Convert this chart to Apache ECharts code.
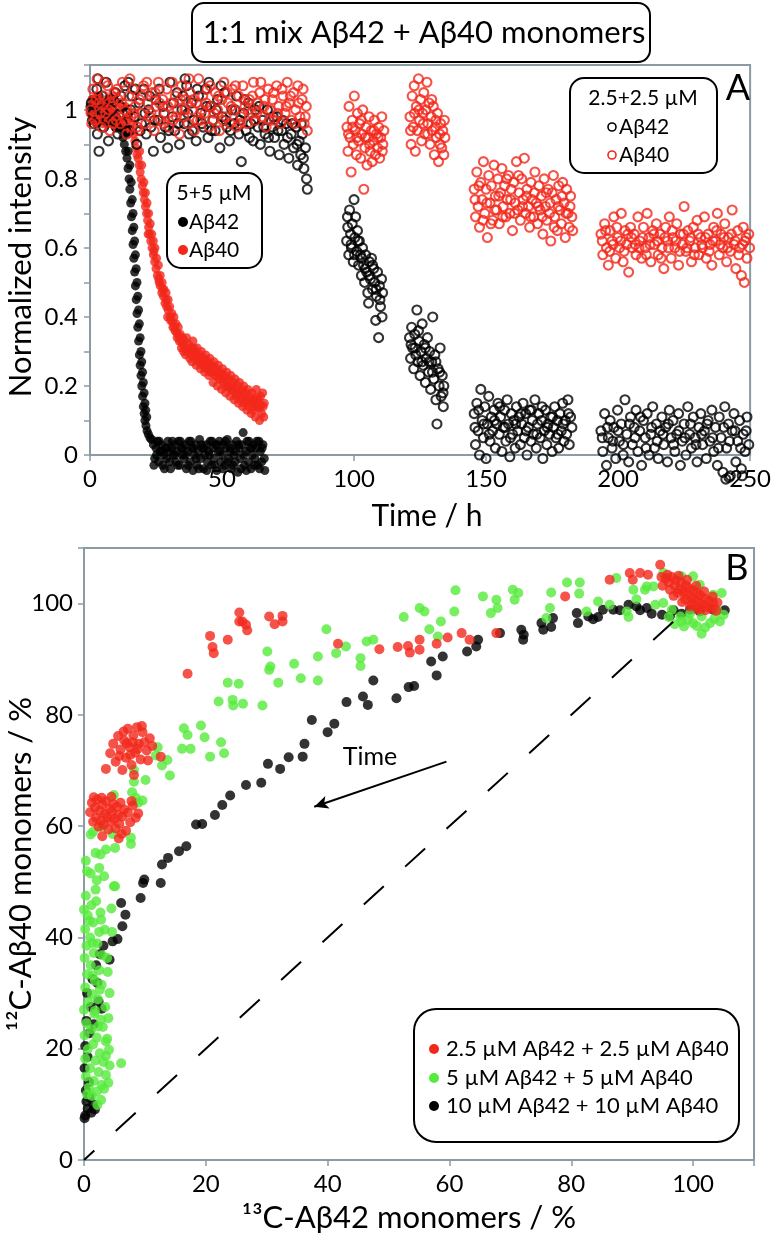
<!DOCTYPE html>
<html><head><meta charset="utf-8">
<script src="https://cdn.jsdelivr.net/npm/echarts@6.0.0/dist/echarts.min.js"></script>
<style>html,body{margin:0;padding:0;background:#fff}#c{width:774px;height:1238px}</style>
</head><body><div id="c"></div>
<script>
// ---------- Panel A: time course (x = time / h, y = normalized intensity) ----------
const timeTicksA = [0, 50, 100, 150, 200, 250];
const intensityTicksA = [0, 0.2, 0.4, 0.6, 0.8, 1];

// 5+5 µM, Aβ42 (filled black)
const a42_5uM = [
[0,1.01],[0.5,0.97],[1,1.03],[1.5,0.99],[2,1.02],[2.5,0.96],[3,1.0],[3.5,1.04],[4,0.98],[4.5,1.01],[5,0.97],[5.5,1.02],[6,0.99],[6.5,0.96],[7,1.01],[7.5,0.98],[8,1.03],[8.5,0.97],[9,0.99],[9.5,0.95],[10,0.98],[10.5,0.96],[11,0.97],
[11.5,0.95],[12,0.94],[12.5,0.92],[13,0.9],[13.5,0.88],[14,0.86],[14.4,0.83],[14.8,0.8],[15.1,0.77],[15.4,0.73],[15.7,0.69],[16,0.65],[16.3,0.61],[16.6,0.57],[16.9,0.53],[17.2,0.49],[17.5,0.45],[17.8,0.41],[18.1,0.37],[18.4,0.33],[18.7,0.29],[19,0.26],[19.3,0.23],[19.6,0.2],[19.9,0.17],[20.2,0.14],[20.5,0.12],[20.8,0.1],[21.2,0.085],[21.6,0.07],[22.1,0.06],[22.7,0.05],[23.3,0.045],
[13.8,0.93],[14.5,0.88],[15.1,0.84],[15.6,0.79],[16,0.74],[16.3,0.7],[16.6,0.66],[16.9,0.62],[17.2,0.58],[17.5,0.54],[17.8,0.5],[18.1,0.46],[18.4,0.42],[18.7,0.38],[19,0.34],[19.3,0.3],[19.6,0.27],[19.9,0.24],[20.2,0.21],[20.5,0.18],[20.8,0.15],[21.1,0.13],[21.5,0.11],
[24,0.03],[24.5,-0.01],[25,0.02],[25.5,0.04],[26,-0.02],[26.5,0.01],[27,0.03],[27.5,-0.03],[28,0.0],[28.5,0.02],[29,-0.01],[29.5,0.04],[30,0.01],[30.5,-0.04],[31,0.02],[31.5,0.0],[32,0.03],[32.5,-0.02],[33,0.01],[33.5,0.04],[34,-0.03],[34.5,0.02],[35,0.0],[35.5,-0.01],[36,0.03],[36.5,-0.04],[37,0.01],[37.5,0.04],[38,-0.02],[38.5,0.02],[39,-0.045],[39.5,0.0],[40,0.03],[40.5,-0.03],[41,0.01],[41.5,0.045],[42,-0.01],[42.5,0.02],[43,-0.04],[43.5,0.0],[44,0.03],[44.5,-0.02],[45,0.01],[45.5,0.04],[46,-0.03],[46.5,0.02],[47,-0.01],[47.5,0.03],[48,-0.045],[48.5,0.01],[49,0.04],[49.5,-0.02],[50,0.0],[50.5,0.03],[51,-0.03],[51.5,0.02],[52,0.045],[52.5,-0.01],[53,0.01],[53.5,-0.04],[54,0.03],[54.5,0.0],[55,-0.02],[55.5,0.04],[56,-0.05],[56.5,0.02],[57,-0.01],[57.5,0.03],[58,0.065],[58.5,-0.03],[59,0.01],[59.5,0.04],[60,-0.02],[60.5,0.02],[61,-0.04],[61.5,0.0],[62,0.03],[62.5,-0.01],[63,0.02],[63.5,-0.03],[64,0.04],[64.5,0.01],[65,-0.02],[65.5,0.03],[66,-0.01],[66.2,-0.045],
[24.2,-0.03],[25.2,0.0],[26.2,0.04],[27.2,0.01],[28.2,-0.04],[29.2,0.02],[30.2,-0.02],[31.2,0.04],[32.2,0.0],[33.2,-0.03],[34.2,0.04],[35.2,0.02],[36.2,0.0],[37.2,-0.03],[38.2,0.04],[39.2,0.02],[40.2,-0.01],[41.2,-0.04],[42.2,0.03],[43.2,0.02],[44.2,-0.045],[45.2,0.0],[46.2,0.04],[47.2,-0.03],[48.2,0.03],[49.2,0.01],[50.2,-0.04],[51.2,0.04],[52.2,-0.02],[53.2,0.02],[54.2,-0.03],[55.2,0.01],[56.2,0.03],[57.2,-0.04],[58.2,0.0],[59.2,-0.045],[60.2,0.04],[61.2,0.02],[62.2,-0.03],[63.2,0.04],[64.2,-0.04],[65.2,0.02]
];

// 5+5 µM, Aβ40 (filled red)
const a40_5uM = [
[0,0.99],[0.7,1.03],[1.4,0.97],[2.1,1.01],[2.8,1.04],[3.5,0.98],[4.2,1.02],[4.9,0.96],[5.6,1.0],[6.3,1.03],[7,0.97],[7.7,1.01],[8.4,0.99],[9.1,1.04],[9.8,0.98],[10.5,1.02],[11.2,0.96],[11.9,1.0],[12.6,0.97],[13.3,1.01],[14,0.95],[14.7,0.98],[15.4,0.94],[16,0.96],[16.5,0.93],
[17,0.91],[17.4,0.89],[17.8,0.87],[18.2,0.86],[18.6,0.84],[19,0.82],[19.4,0.8],[19.8,0.78],[20.2,0.76],[20.6,0.74],[21,0.72],[21.4,0.7],[21.8,0.68],[22.2,0.66],[22.6,0.64],[23,0.62],[23.5,0.6],[24,0.58],[24.5,0.56],[25,0.54],[25.5,0.52],[26,0.51],[26.6,0.49],[27.2,0.47],[27.8,0.46],[28.4,0.44],[29,0.43],[29.6,0.42],
[18.8,0.88],[19.6,0.84],[20.4,0.79],[21,0.76],[21.6,0.73],[22.2,0.7],[22.8,0.67],[23.4,0.64],[24,0.62],[24.6,0.6],[25.2,0.57],[25.9,0.55],[26.6,0.52],[27.3,0.5],[28,0.48],[28.8,0.47],[29.6,0.45],
[22,0.64],[24.2,0.59],[26.2,0.5],[27.5,0.48],[28.8,0.45],[29.4,0.4],
[30.2,0.43],[30.5,0.39],[31,0.41],[31.4,0.37],[31.8,0.4],[32.2,0.36],[32.6,0.38],[33,0.34],[33.4,0.37],[33.8,0.33],[34.2,0.35],[34.6,0.31],[35,0.34],[35.4,0.3],[35.8,0.33],[36.2,0.29],[36.6,0.34],[37,0.3],[37.4,0.32],[37.8,0.28],[38.2,0.31],[38.6,0.27],[39,0.33],[39.4,0.29],[39.8,0.3],[40.2,0.26],[40.6,0.31],[41,0.27],[41.4,0.29],[41.8,0.25],[42.2,0.3],[42.6,0.26],[43,0.28],[43.4,0.24],[43.8,0.29],[44.2,0.25],[44.6,0.27],[45,0.23],[45.4,0.28],[45.8,0.24],[46.2,0.26],[46.6,0.21],[47,0.27],[47.4,0.23],[47.8,0.25],[48.2,0.2],[48.6,0.26],[49,0.22],[49.4,0.24],[49.8,0.19],[50.2,0.25],[50.6,0.21],[51,0.23],[51.4,0.18],[51.8,0.24],[52.2,0.2],[52.6,0.22],[53,0.17],[53.4,0.23],[53.8,0.19],[54.2,0.21],[54.6,0.16],[55,0.22],[55.4,0.17],[55.8,0.2],[56.2,0.15],[56.6,0.21],[57,0.16],[57.4,0.19],[57.8,0.14],[58.2,0.2],[58.6,0.15],[59,0.18],[59.4,0.13],[59.8,0.19],[60.2,0.14],[60.6,0.17],[61,0.12],[61.4,0.18],[61.8,0.13],[62.2,0.16],[62.6,0.11],[63,0.19],[63.4,0.14],[63.8,0.16],[64.2,0.1],[64.6,0.17],[65,0.12],[65.4,0.18],[65.8,0.11],[66,0.15],
[30.4,0.4],[31.2,0.385],[32,0.37],[32.8,0.355],[33.6,0.345],[34.4,0.33],[35.2,0.32],[36,0.31],[36.8,0.305],[37.6,0.3],[38.4,0.29],[39.2,0.31],[40,0.28],[40.8,0.285],[41.6,0.27],[42.4,0.28],[43.2,0.26],[44,0.27],[44.8,0.25],[45.6,0.26],[46.4,0.24],[47.2,0.25],[48,0.23],[48.8,0.235],[49.6,0.22],[50.4,0.225],[51.2,0.2],[52,0.215],[52.8,0.195],[53.6,0.2],[54.4,0.185],[55.2,0.19],[56,0.175],[56.8,0.18],[57.6,0.165],[58.4,0.175],[59.2,0.155],[60,0.16],[60.8,0.15],[61.6,0.155],[62.4,0.14],[63.2,0.165],[64,0.135],[64.8,0.145],[65.6,0.14]
];

// 2.5+2.5 µM, Aβ42 (open black)
const a42_2p5uM = [
[0.5,1.02],[1.5,0.96],[2.6,1.06],[3.4,0.88],[4.3,1.0],[5.2,0.95],[6.1,1.08],[7,0.91],[7.8,1.03],[8.7,0.97],[9.6,1.05],[10.5,0.93],[11.4,1.01],[12.3,0.96],[13.2,1.07],[14.1,0.99],[15,0.94],[15.9,1.04],[16.8,0.98],[17.7,0.9],[18.6,1.02],[19.5,0.96],[20.4,1.06],[21.3,0.93],[22.2,1.0],[23.1,0.95],[24,0.88],[24.9,1.03],[25.8,0.97],[26.7,0.92],[27.6,1.01],[28.5,0.95],[29.4,0.89],[30.3,1.08],[31.2,0.98],[32.1,0.94],[33,1.05],[33.9,0.9],[34.8,1.0],[35.7,0.96],[36.6,1.07],[37.5,0.93],[38.4,1.02],[39.3,0.97],[40.2,0.91],[41.1,1.04],[42,0.99],[42.9,0.95],[43.8,1.06],[44.7,0.92],[45.6,1.01],[46.5,0.97],[47.4,0.94],[48.3,1.03],[49.2,0.89],[50.1,0.98],[51,1.05],[51.9,0.95],[52.8,0.91],[53.7,1.0],[54.6,0.96],[55.5,1.04],[56.4,0.93],[57.3,0.85],[58.2,0.99],[59.1,0.94],[60,1.02],[60.9,0.96],[61.8,0.91],[62.7,1.0],[63.6,0.95],[64.5,0.9],[65.4,0.97],[66.3,0.93],[67.2,1.0],[68.1,0.88],[69,0.95],[69.9,0.92],[70.8,0.98],[71.7,0.87],[72.6,0.94],[73.5,0.9],[74.4,0.96],[75.3,0.86],[76.2,0.93],[77.1,0.89],[78,0.95],[78.6,0.84],[79.2,0.91],[79.8,0.87],[80.4,0.93],[81,0.83],[81.6,0.89],[82,0.8],[82.3,0.77],
[3,1.09],[14.5,1.08],[36,1.09],[45,1.08],
[1,0.99],[2.8,0.93],[4.6,1.04],[6.4,0.97],[8.2,1.0],[10,0.95],[11.8,1.04],[13.6,0.94],[15.4,1.0],[17.2,1.06],[19,0.94],[20.8,0.99],[22.6,1.04],[24.4,0.97],[26.2,1.06],[28,0.99],[29.8,0.94],[31.6,1.02],[33.4,0.96],[35.2,1.04],[37,0.99],[38.8,0.94],[40.6,1.06],[42.4,0.96],[44.2,1.01],[46,0.94],[47.8,1.0],[49.6,1.07],[51.4,0.97],[53.2,0.94],[55,1.0],[56.8,0.97],[58.6,1.03],[60.4,0.92],[62.2,0.97],[64,1.01],[65.8,0.95],[67.6,0.92],[69.4,0.98],[71.2,0.94],[73,0.97],[74.8,0.92],[76.6,0.96],[78.4,0.9],[80,0.96],[80.8,0.86],
[97.2,0.62],[97.6,0.66],[98,0.58],[98.3,0.71],[98.7,0.64],[99,0.6],[99.3,0.67],[99.7,0.56],[100,0.74],[100.3,0.63],[100.6,0.69],[101,0.59],[101.3,0.65],[101.7,0.55],[102,0.62],[102.4,0.58],[102.8,0.52],[103.2,0.6],[103.6,0.55],[104,0.5],[104.4,0.58],[104.8,0.53],[105.2,0.47],[105.5,0.44],[105.8,0.56],[106.2,0.51],[106.6,0.57],[107,0.48],[107.4,0.54],[107.8,0.5],[108.2,0.39],[108.5,0.46],[108.9,0.53],[109.3,0.34],[109.6,0.49],[110,0.43],[110.4,0.51],[110.8,0.47],
[97.5,0.69],[98.9,0.61],[100.2,0.58],[101.5,0.62],[102.9,0.57],[104.2,0.54],[105.6,0.52],[107,0.55],[108.4,0.48],[109.8,0.45],[110.6,0.4],
[121,0.34],[121.4,0.28],[121.8,0.37],[122.2,0.31],[122.6,0.25],[123,0.35],[123.4,0.29],[123.8,0.42],[124.2,0.27],[124.6,0.33],[125,0.23],[125.4,0.3],[125.8,0.38],[126.2,0.26],[126.6,0.32],[127,0.21],[127.4,0.28],[127.8,0.34],[128.2,0.24],[128.6,0.3],[129,0.19],[129.4,0.27],[129.8,0.4],[130.2,0.22],[130.6,0.29],[131,0.16],[131.4,0.09],[131.8,0.25],[132.2,0.2],[132.6,0.31],[133,0.17],[133.4,0.23],[133.8,0.14],[134,0.2],
[121.6,0.32],[123.1,0.31],[124.4,0.36],[125.7,0.27],[127,0.31],[128.4,0.27],[129.7,0.24],[131,0.27],[132.4,0.24],[133.7,0.18],
[145.5,0.12],[146,0.03],[146.5,0.15],[147,0.07],[147.5,0.0],[148,0.19],[148.5,0.1],[149,0.05],[149.5,0.14],[150,-0.01],[150.5,0.09],[151,0.17],[151.5,0.04],[152,0.11],[152.5,0.07],[153,0.13],[153.5,0.02],[154,0.09],[154.5,0.15],[155,0.06],[155.5,0.11],[156,0.01],[156.5,0.08],[157,0.13],[157.5,0.04],[158,0.16],[158.5,0.09],[159,-0.005],[159.5,0.12],[160,0.06],[160.5,0.1],[161,0.02],[161.5,0.14],[162,0.07],[162.5,0.11],[163,0.03],[163.5,0.09],[164,0.15],[164.5,0.05],[165,0.12],[165.5,0.0],[166,0.08],[166.5,0.13],[167,0.04],[167.5,0.1],[168,0.06],[168.5,0.16],[169,0.02],[169.5,0.09],[170,0.12],[170.5,0.05],[171,0.1],[171.5,-0.01],[172,0.07],[172.5,0.13],[173,0.03],[173.5,0.09],[174,0.06],[174.5,0.11],[175,0.01],[175.5,0.08],[176,0.14],[176.5,0.05],[177,0.1],[177.5,0.02],[178,0.12],[178.5,0.07],[179,0.15],[179.5,0.04],[180,0.1],[180.5,0.06],[181,0.16],[181.5,0.03],[182,0.11],[182.5,0.08],
[145.8,0.08],[147.2,0.13],[149.2,0.09],[151.2,0.06],[153.2,0.1],[155.2,0.14],[157.2,0.08],[159.2,0.05],[161.2,0.09],[163.2,0.12],[165.2,0.07],[167.2,0.13],[169.2,0.06],[171.2,0.14],[173.2,0.08],[175.2,0.11],[177.2,0.06],[179.2,0.09],[181.2,0.12],
[193.5,0.07],[194.2,0.01],[194.9,0.12],[195.6,-0.03],[196.3,0.05],[197,0.1],[197.7,0.02],[198.4,0.08],[199.1,-0.01],[199.8,0.13],[200.5,0.04],[201.2,0.09],[201.9,0.0],[202.6,0.16],[203.3,0.06],[204,-0.02],[204.7,0.11],[205.4,0.03],[206.1,0.08],[206.8,0.13],[207.5,0.01],[208.2,0.07],[208.9,-0.03],[209.6,0.1],[210.3,0.05],[211,0.12],[211.7,0.0],[212.4,0.06],[213.1,0.14],[213.8,0.02],[214.5,0.09],[215.2,-0.01],[215.9,0.07],[216.6,0.11],[217.3,0.03],[218,0.08],[218.7,-0.02],[219.4,0.13],[220.1,0.05],[220.8,0.1],[221.5,0.01],[222.2,0.06],[222.9,0.12],[223.6,-0.03],[224.3,0.04],[225,0.09],[225.7,0.0],[226.4,0.14],[227.1,0.06],[227.8,0.02],[228.5,0.11],[229.2,0.05],[229.9,-0.02],[230.6,0.08],[231.3,0.12],[232,0.03],[232.7,0.07],[233.4,-0.01],[234.1,0.1],[234.8,0.04],[235.5,0.13],[236.2,0.01],[236.9,0.08],[237.6,-0.03],[238.3,0.11],[239,0.05],[239.7,-0.05],[240.4,0.14],[241.1,0.02],[241.8,0.09],[242.5,-0.06],[243.2,0.07],[243.9,0.12],[244.6,-0.02],[245.3,0.04],[246,0.1],[246.7,-0.04],[247.4,0.06],[248.1,0.01],[248.8,0.11],[249.5,0.03],[240.8,-0.07],[242,-0.065],[247,-0.06],
[194,0.05],[196,0.08],[198,0.04],[200,0.07],[202,0.03],[204.3,0.09],[206.4,0.05],[208.5,0.11],[210.6,0.02],[212.7,0.08],[214.8,0.04],[217,0.06],[219,0.09],[221,0.03],[223,0.07],[225.3,0.05],[227.4,0.09],[229.5,0.03],[231.6,0.06],[233.7,0.09],[235.8,0.05],[238,0.02],[240,0.08],[242.2,0.04],[244.3,0.07],[246.4,0.02],[248.5,0.07]
];

// 2.5+2.5 µM, Aβ40 (open red)
const a40_2p5uM = [
[0.3,1.0],[1.1,1.06],[1.9,0.97],[2.7,1.09],[3.5,1.02],[4.3,0.95],[5.1,1.04],[5.9,0.99],[6.7,1.07],[7.5,0.94],[8.3,1.01],[9.1,1.05],[9.9,0.97],[10.7,1.03],[11.5,0.96],[12.3,1.08],[13.1,1.0],[13.9,0.93],[14.7,1.04],[15.5,0.98],[16.3,1.06],[17.1,1.01],[17.9,0.95],[18.7,1.03],[19.5,0.99],[20.3,1.07],[21.1,0.96],[21.9,1.02],[22.7,0.98],[23.5,1.05],[24.3,0.94],[25.1,1.01],[25.9,1.08],[26.7,0.97],[27.5,1.03],[28.3,0.99],[29.1,1.06],[29.9,0.95],[30.7,1.02],[31.5,0.97],[32.3,1.04],[33.1,1.0],[33.9,0.93],[34.7,1.07],[35.5,0.98],[36.3,1.03],[37.1,0.96],[37.9,1.05],[38.7,1.0],[39.5,0.94],[40.3,1.02],[41.1,1.09],[41.9,0.97],[42.7,1.04],[43.5,0.99],[44.3,1.06],[45.1,0.95],[45.9,1.01],[46.7,0.97],[47.5,1.05],[48.3,1.0],[49.1,0.94],[49.9,1.03],[50.7,1.08],[51.5,0.98],[52.3,1.02],[53.1,0.96],[53.9,1.06],[54.7,1.0],[55.5,0.95],[56.3,1.04],[57.1,0.98],[57.9,1.07],[58.7,1.01],[59.5,0.96],[60.3,1.03],[61.1,0.99],[61.9,1.08],[62.7,0.97],[63.5,1.02],[64.3,1.05],[65.1,0.98],[65.9,1.01],[66.7,0.95],[67.5,1.06],[68.3,1.0],[69.1,1.03],[69.9,0.97],[70.7,1.07],[71.5,1.01],[72.3,0.96],[73.1,1.04],[73.9,0.99],[74.7,1.08],[75.5,1.02],[76.3,0.97],[77.1,1.05],[77.9,1.0],[78.7,1.07],[79.5,0.98],[80.3,1.03],[81.1,0.96],[81.9,1.01],[82.3,0.94],
[0.7,0.96],[2.3,1.03],[3.9,0.99],[5.5,1.08],[7.1,1.0],[8.7,0.96],[10.3,1.06],[11.9,1.02],[13.5,0.97],[15.1,1.09],[16.7,0.99],[18.3,0.94],[19.9,1.04],[21.5,1.08],[23.1,0.99],[24.7,1.05],[26.3,1.02],[27.9,0.96],[29.5,1.01],[31.1,1.08],[32.7,0.98],[34.3,1.03],[35.9,1.0],[37.5,1.09],[39.1,1.03],[40.7,0.97],[42.3,1.0],[43.9,1.02],[45.5,1.07],[47.1,0.99],[48.7,1.04],[50.3,0.97],[51.9,1.05],[53.5,1.01],[55.1,1.07],[56.7,0.96],[58.3,1.03],[59.9,1.0],[61.5,1.04],[63.1,0.99],[64.7,1.08],[66.3,1.03],[67.9,0.97],[69.5,1.05],[71.1,0.99],[72.7,1.06],[74.3,1.01],[75.9,1.04],[77.5,0.96],[79.1,1.02],[80.7,1.06],[81.5,0.98],
[97.3,0.95],[97.7,0.88],[98.1,1.01],[98.5,0.92],[98.9,0.82],[99.3,0.97],[99.7,0.9],[100.1,1.04],[100.5,0.94],[100.9,0.87],[101.3,0.99],[101.7,0.91],[102.1,0.96],[102.5,0.86],[102.9,0.93],[103.3,1.0],[103.7,0.77],[104.1,0.89],[104.5,0.95],[104.9,0.84],[105.3,0.92],[105.7,0.98],[106.1,0.88],[106.5,0.94],[106.9,0.85],[107.3,0.91],[107.7,0.97],[108.1,0.87],[108.5,0.93],[108.9,0.89],[109.3,0.95],[109.7,0.86],[110.1,0.92],[110.5,0.98],[110.9,0.9],[111.3,0.94],
[97.9,0.93],[99.5,0.95],[101.1,0.92],[102.7,0.97],[104.3,0.92],[105.9,0.9],[107.5,0.94],[109.1,0.92],[110.7,0.88],
[121.2,0.98],[121.6,0.9],[122,1.04],[122.4,0.95],[122.8,1.07],[123.2,0.88],[123.6,1.01],[124,0.94],[124.4,1.09],[124.8,0.97],[125.2,1.03],[125.6,0.91],[126,0.99],[126.4,1.05],[126.8,0.93],[127.2,1.0],[127.6,1.08],[128,0.96],[128.4,1.02],[128.8,0.9],[129.2,0.98],[129.6,0.94],[130,1.01],[130.4,0.87],[130.8,0.95],[131.2,0.92],[131.6,0.99],[132,0.85],[132.4,0.93],[132.8,0.96],[133.2,0.89],[133.6,0.94],[134,0.87],[134.4,0.92],
[121.4,0.94],[122.9,0.99],[124.6,1.0],[126.2,0.96],[127.9,0.93],[129.4,1.03],[131,0.97],[132.6,0.9],[134.2,0.97],
[145.5,0.77],[146,0.69],[146.5,0.82],[147,0.72],[147.5,0.66],[148,0.79],[148.5,0.74],[149,0.85],[149.5,0.7],[150,0.77],[150.5,0.63],[151,0.81],[151.5,0.73],[152,0.78],[152.5,0.68],[153,0.84],[153.5,0.75],[154,0.71],[154.5,0.8],[155,0.67],[155.5,0.76],[156,0.83],[156.5,0.72],[157,0.78],[157.5,0.69],[158,0.74],[158.5,0.81],[159,0.7],[159.5,0.77],[160,0.65],[160.5,0.79],[161,0.73],[161.5,0.85],[162,0.71],[162.5,0.76],[163,0.68],[163.5,0.8],[164,0.74],[164.5,0.86],[165,0.7],[165.5,0.77],[166,0.72],[166.5,0.66],[167,0.79],[167.5,0.74],[168,0.69],[168.5,0.82],[169,0.73],[169.5,0.67],[170,0.78],[170.5,0.71],[171,0.75],[171.5,0.64],[172,0.8],[172.5,0.72],[173,0.68],[173.5,0.77],[174,0.7],[174.5,0.62],[175,0.76],[175.5,0.81],[176,0.69],[176.5,0.74],[177,0.65],[177.5,0.78],[178,0.71],[178.5,0.67],[179,0.79],[179.5,0.73],[180,0.63],[180.5,0.77],[181,0.7],[181.5,0.66],[182,0.75],[182.5,0.69],
[145.8,0.74],[147.3,0.78],[148.8,0.68],[150.3,0.73],[151.8,0.67],[153.3,0.71],[154.8,0.75],[156.3,0.69],[157.8,0.8],[159.3,0.74],[160.8,0.7],[162.3,0.81],[163.8,0.72],[165.3,0.75],[166.8,0.69],[168.3,0.76],[169.8,0.72],[171.3,0.69],[172.8,0.76],[174.3,0.73],[175.8,0.66],[177.3,0.72],[178.8,0.75],[180.3,0.7],[181.8,0.72],[182.8,0.65],
[193.5,0.64],[194.2,0.58],[194.9,0.67],[195.6,0.6],[196.3,0.55],[197,0.65],[197.7,0.62],[198.4,0.69],[199.1,0.57],[199.8,0.63],[200.5,0.6],[201.2,0.7],[201.9,0.56],[202.6,0.65],[203.3,0.61],[204,0.53],[204.7,0.66],[205.4,0.6],[206.1,0.64],[206.8,0.58],[207.5,0.69],[208.2,0.62],[208.9,0.57],[209.6,0.66],[210.3,0.6],[211,0.7],[211.7,0.63],[212.4,0.56],[213.1,0.65],[213.8,0.61],[214.5,0.67],[215.2,0.58],[215.9,0.64],[216.6,0.6],[217.3,0.54],[218,0.66],[218.7,0.62],[219.4,0.69],[220.1,0.57],[220.8,0.63],[221.5,0.6],[222.2,0.67],[222.9,0.55],[223.6,0.64],[224.3,0.61],[225,0.72],[225.7,0.59],[226.4,0.65],[227.1,0.62],[227.8,0.56],[228.5,0.66],[229.2,0.6],[229.9,0.68],[230.6,0.58],[231.3,0.63],[232,0.6],[232.7,0.69],[233.4,0.57],[234.1,0.64],[234.8,0.61],[235.5,0.55],[236.2,0.66],[236.9,0.62],[237.6,0.7],[238.3,0.58],[239,0.64],[239.7,0.6],[240.4,0.67],[241.1,0.56],[241.8,0.63],[242.5,0.59],[243.2,0.71],[243.9,0.61],[244.6,0.54],[245.3,0.65],[246,0.6],[246.7,0.52],[247.4,0.66],[248.1,0.62],[248.8,0.57],[249.5,0.64],[247.8,0.5],
[194,0.62],[195.3,0.65],[196.8,0.59],[198.1,0.61],[199.5,0.66],[201,0.62],[202.3,0.59],[203.7,0.64],[205.1,0.63],[206.5,0.61],[207.9,0.6],[209.3,0.63],[210.7,0.58],[212.1,0.61],[213.5,0.64],[214.9,0.62],[216.3,0.57],[217.7,0.63],[219.1,0.6],[220.5,0.65],[221.9,0.62],[223.3,0.59],[224.7,0.64],[226.1,0.6],[227.5,0.63],[228.9,0.58],[230.3,0.64],[231.7,0.61],[233.1,0.63],[234.5,0.59],[235.9,0.62],[237.3,0.65],[238.7,0.61],[240.1,0.63],[241.5,0.6],[242.9,0.64],[244.3,0.62],[245.7,0.58],[247.1,0.61],[248.5,0.63],[249.8,0.6]
];

// ---------- Panel B: 13C-Aβ42 monomers (%) vs 12C-Aβ40 monomers (%) ----------
const pctTicksB = [0, 20, 40, 60, 80, 100];
const diagonalB = [[0, 0], [100, 100]];
const timeArrowB = [[59.5, 71.6], [37.8, 63.5]];

// 10 µM Aβ42 + 10 µM Aβ40 (black)
const mix10uM = [
[0.2,8],[0.6,9.2],[1.2,8.5],[0.4,10.5],[1.5,10],[0.9,11.3],[0.1,7.5],[1.8,9.1],[0.3,12.5],[0.8,14],[0.1,16.5],[0.6,18.5],[0.2,20.5],[0.9,22.8],[0.4,25],[1.1,27.5],[0.5,30],[1.4,32.5],[2,35],[2.6,37],[3.2,38.5],[4.2,36],[4.7,39.3],[5.5,39.7],[6.3,42],[6.8,44.1],[6.1,46.2],[9.3,47.1],[9.7,49.8],[9.9,50.4],[12.6,49.8],[12.8,53.1],[13.8,54.3],[15.6,55.5],[16.8,56.4],[18.4,60.3],[19.4,60.4],[21.5,62],[22.7,63.8],[24,65.5],[26.6,67.4],[29.1,67.8],[30.2,71.2],[32.2,70.3],[33.6,72.4],[35.9,72.5],[36.2,74.8],[37.4,79.1],[40,76.9],[41.1,78.4],[43.1,82.3],[45.8,83.3],[46.6,81.8],[47.5,86.2],[51.3,83],[53.3,85],[54.2,85.2],[57,89.6],[57.9,87.1],[58.9,90.5],[62.9,91.4],[64.4,92.3],[64.7,93.5],[68.3,94.7],[71.8,95.3],[72.1,93.5],[72.2,94.4],[75.1,96.5],[75.4,95.3],[76.7,95.8],[77,97.4],[80.9,98.3],[81.1,96.5],[82.8,97.7],[83.6,97.2],[84.4,97.6],[85.2,98.9],[86.9,98.9],[88,98.8],[89.4,99.8],[90.7,99.5],[91.3,98.8],[92.4,99.2],[93.2,98.2],[94.9,98],[96.2,97.8],[96.8,98.8],[98.1,98.2],[99.5,98.9],[101.1,98.6],[103.3,98.9],[105.2,98.8],
[2.4,28.5],[2.9,27.2],[1.6,24.4],[2.2,31.8]
];

// 5 µM Aβ42 + 5 µM Aβ40 (green)
const mix5uM = [
[0.3,47.5],[1.2,45.8],[0.6,44],[2,46.5],[1.5,42.7],[0.2,41.5],[2.8,43.2],[1,40],[3.4,41.4],[0.4,38.5],[2.2,38.9],[1.6,37.2],[0.1,36.3],[3,36.8],[1.1,35],[2.5,34.1],[0.5,33.4],[3.8,36.3],[1.8,32.2],[0.2,31],[2.9,31.5],[1.3,29.8],[4.2,30],[0.7,28.4],[2.3,28.9],[3.5,27.5],[0,27],[1.7,26.3],[2.8,25.2],[4,25.5],[0.4,24.6],[1.2,23.5],[3.1,23.9],[0.1,22.4],[2.1,22],[1.5,20.8],[3.6,21.3],[0.6,19.9],[2.6,19.2],[4.1,19.8],[0.2,18.2],[1.9,17.9],[3.2,17.6],[6.1,17.4],[1,16.5],[2.4,15.8],[0.3,15],[3.6,15.3],[1.6,14.2],[2.9,13.5],[0.8,13],[4,13.9],[2.1,12.3],[1.3,11.5],[3.3,12.8],[2.2,9.9],[0.5,11.8],[2.8,10.8],[1.8,26.8],[2.6,30.6],[1.4,33.2],[3.9,33.8],[0.9,43],[1.4,39],[2.5,41],[2.7,44.5],[4.6,41],[5.1,49.2],[1.1,51.5],[0.3,53.8],[2.1,50.3],[0,45],[4.5,45.2],[3.8,21.8],[4.2,17],[2.3,24],[3.6,18.7],
[1.1,58.5],[1.5,59],[2.9,59.9],[4.7,58.6],[7.7,57.9],[7.7,56.8],[5.1,56.1],[3.6,55.8],[2.7,54.9],[1.9,55.2],[0.5,51.9],[2.5,52.5],[3.3,51],[4.9,49.2],[1.9,48.6],[4.9,65.6],[8.5,65.1],[8.9,64.2],[9.6,64.6],[8.2,70.1],[10.1,68.3],[8.2,68],[7.9,66.1],
[12.1,74.2],[13.7,71.9],[12.8,70.9],[14.1,69.1],[11.8,72.7],[16.4,77.6],[17,76.4],[19.2,78.1],[19.8,76],[17.5,73.9],[16.1,73.9],[20.7,72.5],[22.5,75.1],[23,73.1],[22.1,82.4],[23.6,85.8],[25.4,85.6],[24.4,82.7],[24.5,81.7],[26.1,82],[29.3,81.7],[30.1,91.4],[30.4,88.1],[30.6,88.7],[31.9,85.8],[34.5,89.2],[35.6,86.6],[38.4,90.5],[38.4,86.2],[39.8,95.4],[43,92.3],[41.4,91.1],[46.4,93.2],[47.5,93.5],[45.4,90.2],[45.4,88.8],
[52.5,97.6],[55.1,99.2],[55.9,98.6],[56.7,95.4],[58.1,94.1],[58.6,96.8],[60.8,98.6],[61,102.4],[65.5,101.3],[66.8,98.3],[67.7,100.7],[67.9,99.2],[70.4,102.5],[70.7,100.7],[71.3,101.9],[75.9,97.4],[76.5,99.2],[76.7,102],[79.3,103.8],[81.3,101.8],[81.4,103.8],[82.5,98.6],[84.4,100.4],[86.3,99.8],[87.4,104.6],[89.1,98.6],[89.4,97.6],[90.2,102.5],[90.7,100.8],[92.1,102.5],[92.4,103.1],[93.5,103.1],[93.8,99.8],[95.1,100.1],[95.1,105.5],[96.5,98.9],[98.1,104.9],[98.1,96.8],[99.2,97.1],[100,104.9],[101.4,94.6],[101.1,103.4],[103.3,101.6],[104.7,101.9],[103.9,98.9],[104.4,96.8],[102.8,96.5],[100,96.5],[101.4,97.7],[97.9,97.7],[97,96.3],[98.5,95.9],[100.6,96],[102,95.7],[103.5,97.3],[105,98],[99.5,98.2],[96,97.6]
];

// 2.5 µM Aβ42 + 2.5 µM Aβ40 (red)
const mix2p5uM = [
[1,62.5],[1.3,64.2],[1.5,60.8],[1.8,63.3],[2,61.5],[2.2,64.8],[2.4,59.9],[2.6,62.8],[2.8,61],[3,63.9],[3.2,60.3],[3.4,62.2],[3.6,64.5],[3.8,61.6],[4,59.4],[4.2,63.1],[4.4,60.9],[4.6,62.6],[4.8,64],[5,61.3],[5.2,59.6],[5.4,63.5],[5.6,62],[5.8,60.4],[6,64.2],[6.3,61.7],[6.6,63],[6.9,59.2],[7.2,62.4],[7.6,60.7],[8,63.7],[8.5,61.5],[8.9,62.3],[3,58.2],[5.7,57.8],[2.9,65.1],[4.5,65.3],[1.6,65.2],[7.8,64.5],[6.2,58.6],
[4.3,73.1],[4.8,74.8],[5.2,71.6],[5.6,76.2],[6,73.8],[6.3,70.1],[6.6,75.4],[6.9,72.3],[7.2,77.5],[7.5,74.2],[7.8,71],[8.1,76.3],[8.4,73.2],[8.7,77.8],[9,74.8],[9.3,72],[9.6,76.9],[9.9,75.1],[10.3,73.6],[10.8,75.8],[11.2,74.4],[5.8,72.6],[7,74.9],[8,75.1],[8.8,73.9],[6.5,77],[7.6,72.8],[3.6,70.3],[9.5,78],[10.5,71.8],[12.6,72.5],[8.2,69.2],
[17,87.4],[20.7,94.2],[21.1,92.2],[21.3,91.1],[23.6,93.5],[25.5,98.4],[26,96.8],[26.6,96.2],[26.8,95.2],[25.5,96.8],[30.4,97.7],[32.6,97.8],[32.6,96.8],[31.3,96.3],[41.7,92.8],[48.5,91.8],[51.5,92.2],[53.2,92.4],[53.5,91.2],[55.1,91.7],[55.1,93.5],[57.9,92.8],[59.7,93.9],[62,94.7],[63.3,93.5],[67.7,94.7],[79,101.3],[86.3,104.3],[89.6,105.5],[90.1,104.3],[91.3,105.5],[92.6,105.2],[94.6,107],
[95.5,104.5],[96,103.8],[96.5,104.8],[97,103.2],[97.2,104.2],[97.8,102.6],[98,103.8],[98.4,102.1],[98.8,103.3],[99,101.6],[99.3,102.8],[99.7,101.1],[100,102.4],[100.3,100.7],[100.6,101.9],[101,100.2],[101.2,101.5],[101.6,99.8],[101.9,100.9],[102.3,99.4],[102.6,100.5],[103,99.1],[103.3,100.1],[95,103.2],[96.2,102.5],[97.5,101.9],[98.7,100.8],[99.8,100],[100.9,99.3],[102,98.8],[96.8,101.4],[98.2,100.3],[99.5,99.5],[100.8,98.9],[94.8,104.8],[95.8,105.2],[97.6,105],[99,104.3],[100.5,103.2],[101.8,102.2],[103.2,101.3],[104,100.2],[103.8,98.7]
];

// ---------- styles ----------
const FONT = 'Lato, "Open Sans", "DejaVu Sans", sans-serif';
const AXIS = '#8a9ba3';
const RED = '#f2281c';
const GREEN = '#56ea3c';
const BLACK = '#000000';

function fmtA(v){
  const r = Math.round(v * 10);
  if (Math.abs(v * 10 - r) > 1e-6 || r % 2 !== 0 || r > 10 || r < 0) return '';
  return intensityTicksA.indexOf(r / 10) >= 0 ? String(r / 10) : '';
}
function fmtB(v){
  const r = Math.round(v);
  return pctTicksB.indexOf(r) >= 0 && Math.abs(v - r) < 1e-6 ? String(r) : '';
}
function fmtT(v){ return timeTicksA.indexOf(v) >= 0 ? String(v) : ''; }

const axisCommon = {
  axisLine: { show: true, onZero: false, lineStyle: { color: AXIS, width: 2 } },
  axisTick: { show: true, inside: false, length: 6, lineStyle: { color: AXIS, width: 1.5 } },
  splitLine: { show: false },
  axisLabel: { color: '#000', fontFamily: FONT, fontSize: 24 }
};
function ax(extra){ return echarts.util.merge(echarts.util.clone(axisCommon), extra, true); }

function openScatter(data, color){
  return { type: 'scatter', xAxisIndex: 0, yAxisIndex: 0, data: data, clip: false,
    symbol: 'circle', symbolSize: 9,
    itemStyle: { color: 'rgba(255,255,255,0)', borderColor: color, borderWidth: 2.1 } };
}
function filledScatter(data, color, xi, size){
  return { type: 'scatter', xAxisIndex: xi, yAxisIndex: xi, data: data, clip: false,
    symbol: 'circle', symbolSize: size, itemStyle: { color: color } };
}

function txt(x, y, text, size, opts){
  return Object.assign({ type: 'text', x: x, y: y, z: 100,
    style: Object.assign({ text: text, fill: '#000', fontFamily: FONT, fontSize: size,
      align: 'center', verticalAlign: 'middle', textAlign: 'center', textVerticalAlign: 'middle' }, (opts && opts.style) || {}) },
    (opts && opts.el) || {});
}
function box(x, y, w, h, r){
  return { type: 'rect', z: 99, shape: { x: x, y: y, width: w, height: h, r: r },
    style: { fill: '#fff', stroke: '#000', lineWidth: 2 } };
}
function dot(cx, cy, r, color, open){
  return { type: 'circle', z: 101, shape: { cx: cx, cy: cy, r: r },
    style: open ? { fill: 'rgba(0,0,0,0)', stroke: color, lineWidth: 1.6 } : { fill: color } };
}

const option = {
  animation: false,
  backgroundColor: '#fff',
  grid: [
    { left: 90, top: 65, width: 662, height: 390, show: true, borderColor: AXIS, borderWidth: 2, backgroundColor: 'transparent' },
    { left: 84, top: 548, width: 670, height: 612, show: true, borderColor: AXIS, borderWidth: 2, backgroundColor: 'transparent' }
  ],
  xAxis: [
    ax({ type: 'value', gridIndex: 0, min: 0, max: 250, interval: 50, axisLabel: { margin: 12, formatter: fmtT } }),
    ax({ type: 'value', gridIndex: 1, min: 0, max: 110, interval: 20, axisLabel: { margin: 12, formatter: fmtB } })
  ],
  yAxis: [
    ax({ type: 'value', gridIndex: 0, min: 0, max: 1.13, interval: 0.1, axisLabel: { margin: 12, formatter: fmtA } }),
    ax({ type: 'value', gridIndex: 1, min: 0, max: 110, interval: 20, axisLabel: { margin: 11, formatter: fmtB } })
  ],
  series: [
    filledScatter(a42_5uM, BLACK, 0, 9),
    filledScatter(a40_5uM, RED, 0, 9),
    openScatter(a42_2p5uM, BLACK),
    openScatter(a40_2p5uM, RED),
    { type: 'line', xAxisIndex: 1, yAxisIndex: 1, data: diagonalB, symbol: 'none', silent: true,
      lineStyle: { color: '#000', width: 2, type: [27, 29], dashOffset: 13 },
      markLine: { silent: true, symbol: ['none', 'arrow'], symbolSize: [10, 14], animation: false,
        label: { show: false }, lineStyle: { color: '#000', width: 2, type: 'solid' },
        data: [[ { coord: timeArrowB[0] }, { coord: timeArrowB[1] } ]] } },
    filledScatter(mix10uM, BLACK, 1, 10),
    filledScatter(mix5uM, GREEN, 1, 10),
    filledScatter(mix2p5uM, RED, 1, 10)
  ],
  graphic: [
    box(192, 3, 458, 59, 12),
    txt(424, 33, '1:1 mix Aβ42 + Aβ40 monomers', 31),
    txt(738, 88, 'A', 36),
    txt(737, 568, 'B', 36),
    txt(21, 257, 'Normalized intensity', 31, { el: { rotation: Math.PI / 2 } }),
    txt(427, 516, 'Time / h', 30),
    txt(21, 864, '¹²C-Aβ40 monomers / %', 31, { el: { rotation: Math.PI / 2 } }),
    txt(409, 1218, '¹³C-Aβ42 monomers / %', 31),
    box(570, 78, 147, 95, 14),
    txt(643, 98, '2.5+2.5 µM', 21),
    dot(612, 127, 4, BLACK, true),
    txt(619, 127, 'Aβ42', 21, { style: { align: 'left', textAlign: 'left' } }),
    dot(612, 155, 4, RED, true),
    txt(619, 155, 'Aβ40', 21, { style: { align: 'left', textAlign: 'left' } }),
    box(167, 173, 95, 95, 14),
    txt(214, 193, '5+5 µM', 21),
    dot(183, 222, 5, BLACK, false),
    txt(189, 222, 'Aβ42', 21, { style: { align: 'left', textAlign: 'left' } }),
    dot(183, 250, 5, RED, false),
    txt(189, 250, 'Aβ40', 21, { style: { align: 'left', textAlign: 'left' } }),
    txt(370, 757, 'Time', 25),
    box(414, 1009, 325, 133, 22),
    dot(434, 1049, 5, RED, false),
    txt(446, 1049, '2.5 µM Aβ42 + 2.5 µM Aβ40', 22, { style: { align: 'left', textAlign: 'left' } }),
    dot(434, 1078, 5, GREEN, false),
    txt(446, 1078, '5 µM Aβ42 + 5 µM Aβ40', 22, { style: { align: 'left', textAlign: 'left' } }),
    dot(434, 1106, 5, BLACK, false),
    txt(446, 1106, '10 µM Aβ42 + 10 µM Aβ40', 22, { style: { align: 'left', textAlign: 'left' } })
  ]
};

const chart = echarts.init(document.getElementById('c'), null, { renderer: 'canvas' });
chart.setOption(option);
</script></body></html>
